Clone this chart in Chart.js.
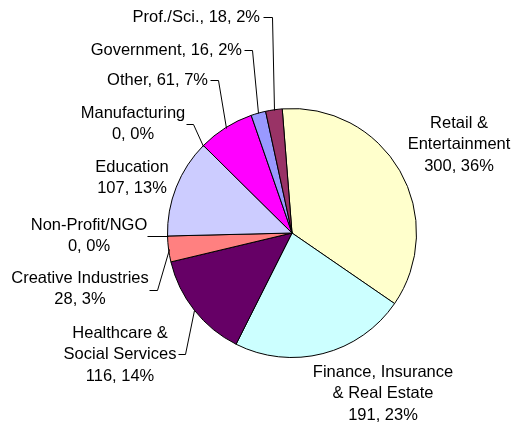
<!DOCTYPE html>
<html>
<head>
  <meta charset="UTF-8">
  <title>Employment by sector</title>
  <script src="https://cdn.jsdelivr.net/npm/chart.js@4/dist/chart.umd.min.js"></script>
  <style>
    body { margin: 0; background: #fff; }
  </style>
</head>
<body>
  <canvas id="canvas" width="519" height="423"></canvas>
  <script>
    // data (clockwise from the top)
    var categories = ["Retail & Entertainment", "Finance, Insurance & Real Estate", "Healthcare & Social Services",
                      "Creative Industries", "Non-Profit/NGO", "Education", "Manufacturing", "Other",
                      "Government", "Prof./Sci."];
    var values = [300, 191, 116, 28, 0, 107, 0, 61, 16, 18];
    var colors = ["#FFFFCC", "#CCFFFF", "#660066", "#FF8080", "#0066CC", "#CCCCFF", "#000080", "#FF00FF",
                  "#9999FF", "#993366"];

    // how each label is broken into lines
    var nameLines = [["Retail &", "Entertainment"], ["Finance, Insurance", "& Real Estate"],
                     ["Healthcare &", "Social Services"], ["Creative Industries"], ["Non-Profit/NGO"],
                     ["Education"], ["Manufacturing"], ["Other"], ["Government"], ["Prof./Sci."]];
    var inlineValue = [false, false, false, false, false, false, false, true, true, true];

    // label placement: x, first line y, text align, elbow point of the leader (null = no leader)
    var labelPos = [
      {x: 459, y: 123, align: "center", elbow: null},
      {x: 383, y: 372, align: "center", elbow: null},
      {x: 120, y: 333, align: "center", elbow: [[185, 354], [178, 354]]},
      {x: 80,  y: 278, align: "center", elbow: [[157, 290], [149, 290]]},
      {x: 89,  y: 225, align: "center", elbow: [[147, 236]]},
      {x: 132, y: 167, align: "center", elbow: null},
      {x: 133, y: 113, align: "center", elbow: [[193, 124], [186, 124]]},
      {x: 208, y: 80,  align: "right",  elbow: [[218, 80], [210, 80]]},
      {x: 242, y: 50,  align: "right",  elbow: [[252, 50], [244, 50]]},
      {x: 260, y: 17,  align: "right",  elbow: [[272, 17], [263, 17]]}
    ];
    var lineGap = 21.5;

    var total = values.reduce(function (a, b) { return a + b; }, 0);

    var labelPlugin = {
      id: "pieLabels",
      afterDraw: function (chart) {
        var ctx = chart.ctx;
        var arcs = chart.getDatasetMeta(0).data;
        ctx.save();
        ctx.font = "16.5px 'Liberation Sans', Arial, sans-serif";
        ctx.fillStyle = "#000";
        ctx.strokeStyle = "#000";
        ctx.lineWidth = 1;
        ctx.textBaseline = "middle";
        for (var i = 0; i < values.length; i++) {
          var pos = labelPos[i];
          var pct = Math.round(values[i] / total * 100);
          var valText = values[i] + ", " + pct + "%";
          var lines = nameLines[i].slice();
          if (inlineValue[i]) {
            lines[lines.length - 1] += ", " + valText;
          } else {
            lines.push(valText);
          }
          ctx.textAlign = pos.align;
          for (var k = 0; k < lines.length; k++) {
            ctx.fillText(lines[k], pos.x, pos.y + k * lineGap);
          }
          if (pos.elbow) {
            // leader from the middle of the slice's outer edge
            var a = arcs[i];
            var mid = (a.startAngle + a.endAngle) / 2;
            var px = a.x + Math.cos(mid) * a.outerRadius;
            var py = a.y + Math.sin(mid) * a.outerRadius;
            ctx.beginPath();
            ctx.moveTo(Math.round(px) + 0.5, Math.round(py) + 0.5);
            pos.elbow.forEach(function (p) {
              ctx.lineTo(p[0] + 0.5, p[1] + 0.5);
            });
            ctx.stroke();
          }
        }
        ctx.restore();
      }
    };

    new Chart(document.getElementById("canvas").getContext("2d"), {
      type: "pie",
      data: {
        labels: categories,
        datasets: [{
          data: values,
          backgroundColor: colors,
          borderColor: "#000",
          borderWidth: 1
        }]
      },
      options: {
        responsive: false,
        animation: false,
        rotation: -4.5,
        layout: { padding: { left: 167, right: 102, top: 108, bottom: 65 } },
        plugins: {
          legend: { display: false },
          tooltip: { enabled: false }
        }
      },
      plugins: [labelPlugin]
    });
  </script>
</body>
</html>
